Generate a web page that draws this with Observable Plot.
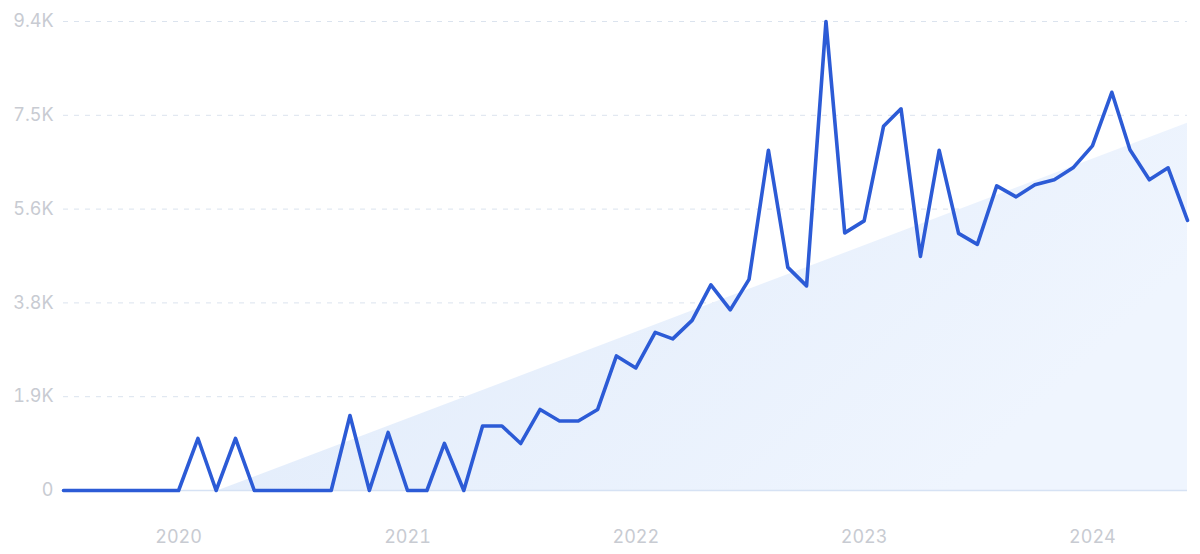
<!DOCTYPE html>
<html>
<head>
<meta charset="utf-8">
<script src="https://cdn.jsdelivr.net/npm/d3@7"></script>
<script src="https://cdn.jsdelivr.net/npm/@observablehq/plot@0.6"></script>
<style>
  html, body { margin: 0; padding: 0; background: #ffffff; }
  #chart svg { display: block; }
</style>
</head>
<body>
<div id="chart"></div>
<script>
// ---- data ----
const startMonth = "2019-07-01";
const values = [
  0, 0, 0, 0, 0, 0, 0,          // Jul 2019 - Jan 2020
  1040, 0, 1040, 0, 0, 0, 0, 0, // Feb - Sep 2020
  1500, 0, 1160, 0,             // Oct 2020 - Jan 2021
  0, 940, 0, 1290, 1290, 940, 1620, 1390, 1390, 1620, 2690, 2450, // Feb 2021 - Jan 2022
  3160, 3030, 3400, 4110, 3610, 4220, 6800, 4460, 4090, 9375, 5150, 5390, // Feb 2022 - Jan 2023
  7280, 7630, 4680, 6800, 5140, 4920, 6090, 5870, 6110, 6210, 6450, 6890, // Feb 2023 - Jan 2024
  7960, 6810, 6210, 6450, 5400  // Feb - Jun 2024
];
const trendDates = ["2020-03-05", "2024-06-01"];
const trendValues = [0, 7340];
const yTicks = [0, 1875, 3750, 5625, 7500, 9375];
const yearTicks = ["2020-01-01", "2021-01-01", "2022-01-01", "2023-01-01", "2024-01-01"];

// ---- build tables ----
const start = new Date(startMonth);
const data = values.map((v, i) => ({date: d3.utcMonth.offset(start, i), value: v}));
const trend = trendDates.map((d, i) => ({date: new Date(d), value: trendValues[i]}));
const xDomain = [data[0].date, data[data.length - 1].date];

const defs = () => {
  const g = d3.create("svg:defs");
  const lg = g.append("linearGradient")
    .attr("id", "trendGrad")
    .attr("x1", "0").attr("y1", "0").attr("x2", "1").attr("y2", "0.4");
  lg.append("stop").attr("offset", "0%").attr("stop-color", "#dfeafa");
  lg.append("stop").attr("offset", "100%").attr("stop-color", "#eff5fe");
  return g.node();
};

const chart = Plot.plot({
  width: 1200,
  height: 554,
  marginLeft: 63,
  marginRight: 13,
  marginTop: 21,
  marginBottom: 64,
  style: {fontFamily: "Inter, 'Noto Sans', sans-serif", fontSize: "18px", color: "#c8cbd2", background: "#ffffff"},
  x: {type: "utc", domain: xDomain, ticks: yearTicks.map(d => new Date(d)), tickFormat: d3.utcFormat("%Y"), tickSize: 0, tickPadding: 40, label: null},
  y: {domain: [0, 9375], ticks: yTicks, tickFormat: d => d === 0 ? "0" : (d / 1000).toFixed(1) + "K", tickSize: 0, tickPadding: 10, label: null},
  marks: [
    defs,
    Plot.ruleY(yTicks.filter(d => d > 0), {stroke: "#dbe3ee", strokeWidth: 1, strokeDasharray: "5,6"}),
    Plot.areaY(trend, {x: "date", y: "value", fill: "url(#trendGrad)"}),
    Plot.ruleY([0], {stroke: "#d6e2f4", strokeWidth: 1.5}),
    Plot.lineY(data, {x: "date", y: "value", stroke: "#2c5bd6", strokeWidth: 3.6, strokeLinejoin: "round", strokeLinecap: "round"})
  ]
});
document.getElementById("chart").appendChild(chart);
</script>
</body>
</html>
